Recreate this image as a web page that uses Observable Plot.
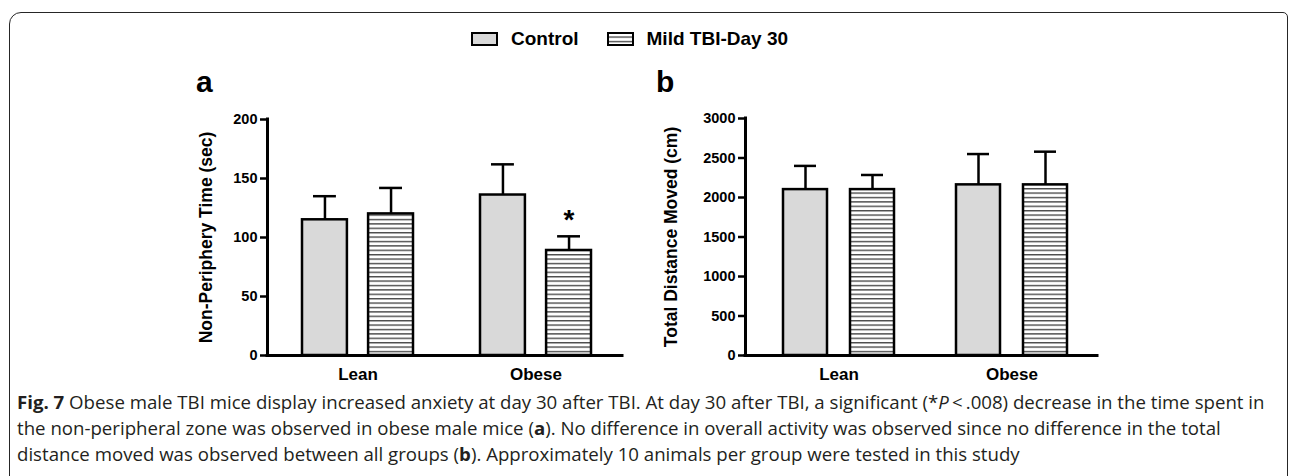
<!DOCTYPE html>
<html>
<head>
<meta charset="utf-8">
<script src="https://cdn.jsdelivr.net/npm/d3@7"></script>
<script src="https://cdn.jsdelivr.net/npm/@observablehq/plot@0.6"></script>
<style>
html, body { margin: 0; padding: 0; background: #fff; }
#root { position: relative; width: 1292px; height: 476px; overflow: hidden; font-family: "Liberation Sans", Arial, sans-serif; color: #000; }
#frame { position: absolute; left: 9px; top: 12px; width: 1279px; height: 520px; border: 1.7px solid #262626; border-top-left-radius: 12px; border-top-right-radius: 5px; box-sizing: border-box; }
#legend { position: absolute; left: 471px; top: 29px; height: 20px; display: flex; align-items: center; font-weight: bold; font-size: 19px; white-space: nowrap; }
#legend .sw { display: block; margin-right: 13px; }
#legend .gap { width: 28px; }
.plabel { position: absolute; font-weight: bold; font-size: 30px; line-height: 30px; }
#panelA { position: absolute; left: 150px; top: 100px; }
#panelB { position: absolute; left: 640px; top: 100px; }
#caption { position: absolute; left: 17px; top: 389px; font-family: "Open Sans", sans-serif; font-size: 18px; line-height: 26px; color: #231f20; white-space: nowrap; }
#caption .line { display: block; width: max-content; }
#caption b { font-weight: bold; }
</style>
</head>
<body>
<div id="root">
  <svg width="0" height="0" style="position:absolute">
    <defs>
      <pattern id="hatch" patternUnits="userSpaceOnUse" width="6" height="4.4">
        <rect x="0" y="0" width="6" height="4.4" fill="#ffffff"></rect>
        <rect x="0" y="0" width="6" height="1.4" fill="#4a4a4a"></rect>
      </pattern>
    </defs>
  </svg>
  <div id="frame"></div>
  <div id="legend"></div>
  <div class="plabel" style="left:196px; top:67px;">a</div>
  <div class="plabel" style="left:656px; top:67px;">b</div>
  <div id="panelA"></div>
  <div id="panelB"></div>
  <div id="caption">
    <span class="line" id="cap1"><b>Fig. 7</b> Obese male TBI mice display increased anxiety at day 30 after TBI. At day 30 after TBI, a significant (*<i>P</i>&#8201;&lt;&#8201;.008) decrease in the time spent in</span>
    <span class="line">the non-peripheral zone was observed in obese male mice (<b>a</b>). No difference in overall activity was observed since no difference in the total</span>
    <span class="line">distance moved was observed between all groups (<b>b</b>). Approximately 10 animals per group were tested in this study</span>
  </div>
</div>
<script>
// ---- data ----
const groups = ["Lean", "Obese"];
const conditions = ["Control", "Mild TBI-Day 30"];

const timeControlMean = [115, 136];
const timeControlSem  = [20, 26];
const timeTbiMean     = [120, 89];
const timeTbiSem      = [22, 12];

const distControlMean = [2100, 2160];
const distControlSem  = [300, 390];
const distTbiMean     = [2100, 2160];
const distTbiSem      = [185, 420];

const timeTicks = [0, 50, 100, 150, 200];
const distTicks = [0, 500, 1000, 1500, 2000, 2500, 3000];

const timeLabel = "Non-Periphery Time (sec)";
const distLabel = "Total Distance Moved (cm)";

const timeSignificant = [{group: "Obese", condition: "Mild TBI-Day 30", mark: "*"}];

// ---- styles ----
const controlFill = "#d9d9d9";
const tbiFill = "url(#hatch)";

function rowsFor(means, sems, condition) {
  return groups.map((g, i) => ({group: g, condition, mean: means[i], sem: sems[i], upper: means[i] + sems[i]}));
}

function panel(opts) {
  const {ctrl, tbi, ticks, label, width, height, marginLeft, marginRight, marginTop, marginBottom,
         paddingInner, paddingOuter, align, labelDx, stars} = opts;
  const n = groups.length;
  const range = width - marginLeft - marginRight;
  const step = range / (n - paddingInner + 2 * paddingOuter);
  const bw = step * (1 - paddingInner);
  const barW = 45, cap = 11.5;
  const off = bw / 2 - barW / 2;
  const upperRows = ctrl.concat(tbi);
  const starRows = stars.map(s => ({...s, upper: upperRows.find(r => r.group === s.group && r.condition === s.condition).upper}));
  return Plot.plot({
    width, height, marginLeft, marginRight, marginTop, marginBottom,
    style: {fontFamily: "'Liberation Sans', Arial, sans-serif", color: "#000", background: "transparent", overflow: "visible"},
    x: {domain: groups, type: "band", paddingInner, paddingOuter, align},
    y: {domain: [ticks[0], ticks[ticks.length - 1]]},
    marks: [
      Plot.barY(ctrl, {x: "group", y: "mean", fill: controlFill, stroke: "#000", strokeWidth: 2.5, insetRight: bw - barW}),
      Plot.barY(tbi, {x: "group", y: "mean", fill: tbiFill, stroke: "#000", strokeWidth: 2.5, insetLeft: bw - barW}),
      Plot.ruleX(ctrl, {x: "group", y1: "mean", y2: "upper", dx: -off, stroke: "#000", strokeWidth: 2.5}),
      Plot.ruleX(tbi, {x: "group", y1: "mean", y2: "upper", dx: off, stroke: "#000", strokeWidth: 2.5}),
      Plot.tickY(ctrl, {x: "group", y: "upper", insetLeft: barW / 2 - cap, insetRight: bw - barW / 2 - cap, stroke: "#000", strokeWidth: 2.5}),
      Plot.tickY(tbi, {x: "group", y: "upper", insetLeft: bw - barW / 2 - cap, insetRight: barW / 2 - cap, stroke: "#000", strokeWidth: 2.5}),
      Plot.text(starRows, {x: "group", y: "upper", text: "mark", dx: off, dy: -16, fontSize: 28, fontWeight: "bold"}),
      Plot.ruleY([ticks[0]], {stroke: "#000", strokeWidth: 3, strokeLinecap: "square"}),
      Plot.ruleX([ticks[0]], {x: null, dx: -range / 2, stroke: "#000", strokeWidth: 3, strokeLinecap: "square"}),
      Plot.axisY({ticks, tickFormat: d => String(d), tickSize: 7, tickPadding: 3, strokeWidth: 2.5, fontSize: 14.5, fontWeight: "bold", label: null}),
      Plot.axisX({tickSize: 0, tickPadding: 12, fontSize: 17, fontWeight: "bold", label: null}),
      Plot.text([label], {frameAnchor: "left", textAnchor: "middle", text: d => d, rotate: -90, dx: labelDx, fontSize: 17.5, fontWeight: "bold"})
    ]
  });
}

const chartA = panel({
  ctrl: rowsFor(timeControlMean, timeControlSem, conditions[0]),
  tbi: rowsFor(timeTbiMean, timeTbiSem, conditions[1]),
  ticks: timeTicks, label: timeLabel,
  width: 490, height: 290, marginLeft: 117, marginRight: 18, marginTop: 19, marginBottom: 35,
  paddingInner: 0.376, paddingOuter: 0.185, align: 0.53, labelDx: -61, stars: timeSignificant
});
document.getElementById("panelA").appendChild(chartA);

const chartB = panel({
  ctrl: rowsFor(distControlMean, distControlSem, conditions[0]),
  tbi: rowsFor(distTbiMean, distTbiSem, conditions[1]),
  ticks: distTicks, label: distLabel,
  width: 470, height: 290, marginLeft: 105, marginRight: 13, marginTop: 18, marginBottom: 35,
  paddingInner: 0.356, paddingOuter: 0.19, align: 0.56, labelDx: -74, stars: []
});
document.getElementById("panelB").appendChild(chartB);

// ---- legend ----
const legend = document.getElementById("legend");
conditions.forEach((c, i) => {
  if (i > 0) { const g = document.createElement("span"); g.className = "gap"; legend.appendChild(g); }
  const ns = "http://www.w3.org/2000/svg";
  const sw = document.createElementNS(ns, "svg");
  sw.setAttribute("width", 27); sw.setAttribute("height", 14); sw.setAttribute("class", "sw");
  const r = document.createElementNS(ns, "rect");
  r.setAttribute("x", 1); r.setAttribute("y", 1); r.setAttribute("width", 25); r.setAttribute("height", 12);
  r.setAttribute("fill", i === 0 ? controlFill : tbiFill); r.setAttribute("stroke", "#000"); r.setAttribute("stroke-width", 2);
  sw.appendChild(r); legend.appendChild(sw);
  const t = document.createElement("span"); t.textContent = c; legend.appendChild(t);
});

// ---- fit caption first line to the reference width ----
const cap = document.getElementById("caption");
const w = document.getElementById("cap1").getBoundingClientRect().width;
cap.style.fontSize = (18 * 1248 / w).toFixed(2) + "px";
</script>
</body>
</html>
